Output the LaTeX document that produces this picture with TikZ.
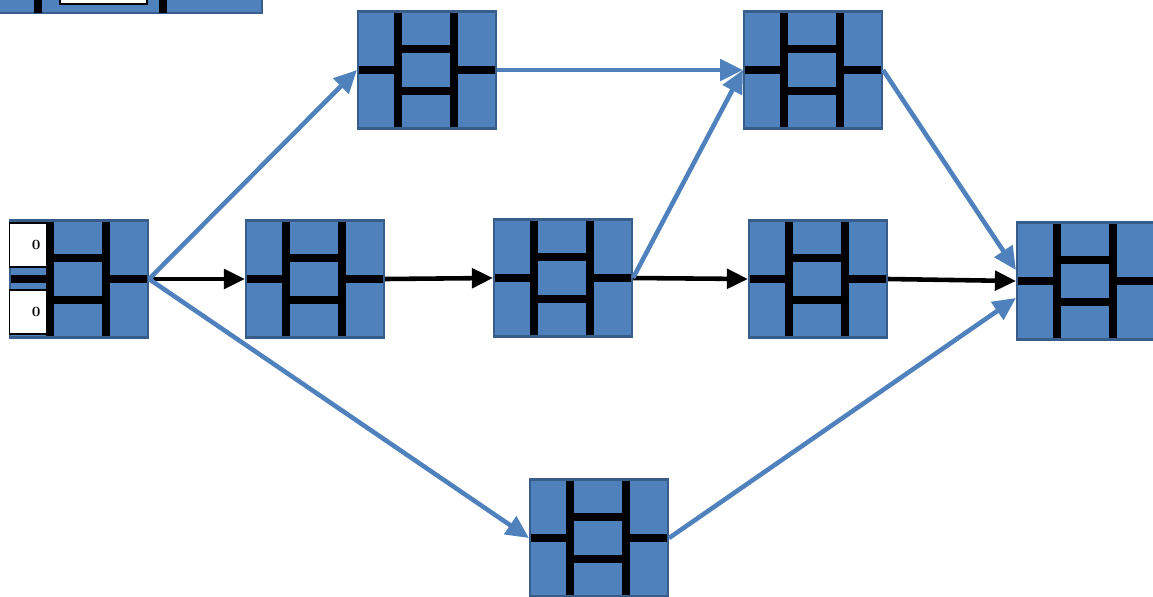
\documentclass[tikz,border=0pt]{standalone}
\usetikzlibrary{arrows.meta}
\definecolor{boxblue}{RGB}{79,129,189}
\definecolor{boxedge}{RGB}{56,93,138}
\tikzset{
  actbox/.style={draw=boxedge, fill=boxblue, line width=1.2pt, inner sep=0pt,
    minimum width=2.76cm, minimum height=2.34cm,
    path picture={
      \draw[black, line width=4.5pt, shift={(path picture bounding box.center)}]
        (-29,-65) -- (-29,65) (27,-65) -- (27,65)
        (-75,0) -- (-29,0) (27,0) -- (75,0)
        (-29,-21) -- (27,-21) (-29,21) -- (27,21);
    }},
  zerobox/.style={draw, fill=white, line width=0.6pt, inner sep=0pt,
    minimum width=0.74cm, minimum height=0.88cm, text width=0.5cm, align=right,
    font=\footnotesize\bfseries},
  blueflow/.style={draw=boxblue, line width=2.6pt, -{Triangle[length=13pt,width=12pt]}},
  blackflow/.style={draw=black, line width=2.6pt, -{Triangle[length=12pt,width=11pt]}}
}
\begin{document}
\begin{tikzpicture}[x=0.02cm, y=-0.02cm]
  \clip (0,0) rectangle (1153,596);
  % cut-off box in the corner
  \draw[fill=boxblue, draw=boxedge, line width=1.2pt] (-10,-100) rectangle (262,13);
  \draw[line width=4.5pt] (38,-10) -- (38,13) (163,-10) -- (163,13);
  \draw[fill=white, line width=0.6pt] (60,-20) rectangle (147,4);

  % activities
  \node[actbox] (start) at (79,279) {};
  \node[zerobox] (es) at (28,245) {0};
  \node[zerobox] (ls) at (28,312) {0};
  \node[actbox] (up1) at (427,70) {};
  \node[actbox] (up2) at (813,70) {};
  \node[actbox] (mid1) at (315,279) {};
  \node[actbox] (mid2) at (563,278) {};
  \node[actbox] (mid3) at (818,279) {};
  \node[actbox] (low) at (599,538) {};
  \node[actbox] (finish) at (1086,281) {};

  % critical path
  \draw[blackflow] (start.east) -- (mid1.west);
  \draw[blackflow] (mid1.east) -- (mid2.west);
  \draw[blackflow] (mid2.east) -- (mid3.west);
  \draw[blackflow] (mid3.east) -- (finish.west);

  % other paths
  \draw[blueflow] (start.east) -- (up1.west);
  \draw[blueflow] (up1.east) -- (up2.west);
  \draw[blueflow] (mid2.east) -- (up2.west);
  \draw[blueflow] (up2.east) -- ([yshift=0.22cm]finish.west);
  \draw[blueflow] (start.east) -- (low.west);
  \draw[blueflow] (low.east) -- ([yshift=-0.34cm]finish.west);
\end{tikzpicture}
\end{document}
